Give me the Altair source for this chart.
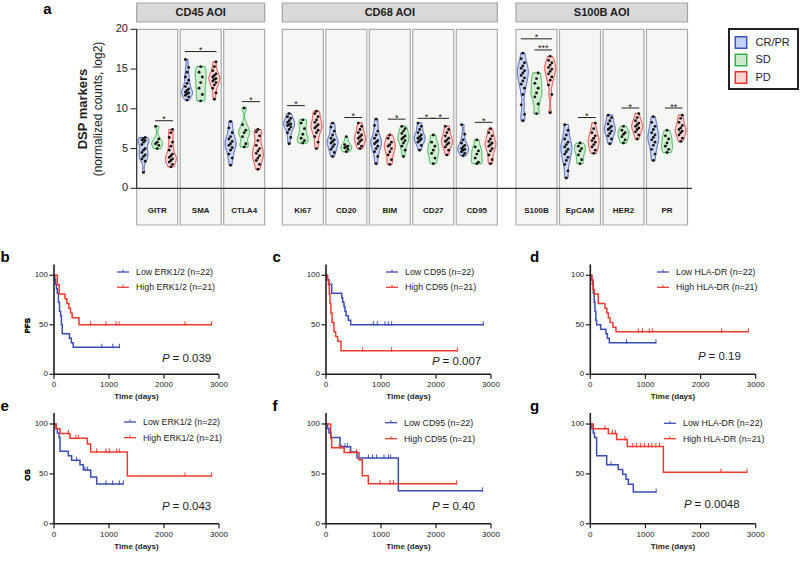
import altair as alt
import pandas as pd

# ---------------- panel a data (CR/PR, SD, PD) ----------------
GROUPS = ['CR/PR', 'SD', 'PD']
FILLS = ['#c5d1ef', '#cbecca', '#fcd5d5']
STROKES = ['#3a55b6', '#2fb04a', '#e8332d']

GITR = ([2.0, 3.4, 3.7, 4.0, 4.2, 4.5, 4.8, 5.0, 5.5, 5.8, 6.0, 6.1, 6.2, 6.4],
        [5.0, 5.4, 5.6, 5.8, 6.2, 7.8],
        [2.7, 3.0, 3.3, 3.5, 3.7, 3.9, 4.1, 4.3, 4.8, 5.3, 5.8, 6.4, 7.0, 7.4])
SMA = ([11.1, 11.5, 11.7, 11.9, 12.0, 12.1, 12.3, 12.5, 12.8, 13.2, 13.6, 14.0, 14.6, 15.2, 16.2],
       [11.0, 11.8, 12.6, 13.3, 14.0, 14.6, 15.3],
       [11.2, 12.0, 12.6, 13.0, 13.3, 13.5, 13.7, 13.8, 14.0, 14.2, 14.4, 14.8, 15.3, 15.9])
CTLA4 = ([2.9, 3.8, 4.3, 4.8, 5.1, 5.4, 5.6, 5.9, 6.2, 6.5, 7.0, 7.6, 8.4],
         [5.2, 5.6, 6.5, 7.0, 7.3, 8.0, 10.1],
         [2.4, 3.0, 3.5, 3.8, 4.1, 4.4, 4.7, 5.0, 5.4, 6.0, 6.6, 7.1, 7.4])
KI67 = ([5.6, 6.4, 7.0, 7.4, 7.7, 7.9, 8.0, 8.1, 8.3, 8.5, 8.8, 9.0, 9.4],
        [5.7, 6.0, 6.3, 6.8, 7.5, 8.2, 8.6],
        [5.0, 5.8, 6.5, 7.0, 7.3, 7.6, 7.8, 8.0, 8.3, 8.6, 9.0, 9.4, 9.7])
CD20 = ([4.0, 4.5, 4.9, 5.2, 5.5, 5.7, 5.9, 6.1, 6.3, 6.7, 7.2, 7.7, 8.2],
        [4.6, 4.9, 5.1, 5.2, 5.3, 5.5, 6.5],
        [5.0, 5.3, 5.6, 5.9, 6.1, 6.3, 6.5, 6.7, 7.0, 7.4, 7.8, 8.2])
BIM = ([3.1, 4.0, 4.6, 5.0, 5.3, 5.6, 5.8, 6.0, 6.3, 6.7, 7.2, 7.9, 8.7],
       [4.0, 4.8, 5.3, 5.7, 6.0, 6.2, 6.4, 6.6, 6.9, 7.2, 7.5, 7.8],
       [3.0, 3.6, 4.2, 4.6, 5.0, 5.3, 5.5, 5.8, 6.3, 6.7])
CD27 = ([4.8, 5.4, 5.8, 6.0, 6.2, 6.3, 6.5, 6.7, 7.0, 7.4, 7.8, 8.2],
        [3.1, 3.8, 4.4, 4.8, 5.3, 5.8, 6.7],
        [4.2, 4.8, 5.2, 5.5, 5.7, 5.9, 6.1, 6.3, 6.6, 7.0, 7.4, 7.8])
CD95 = ([4.1, 4.4, 4.6, 4.8, 4.9, 5.0, 5.2, 5.4, 5.7, 6.1, 6.8, 8.0],
        [3.1, 3.3, 3.8, 4.3, 4.7, 5.2, 6.1],
        [3.1, 3.6, 4.2, 4.7, 5.0, 5.3, 5.5, 5.7, 5.9, 6.2, 6.6, 7.0, 7.5])
S100B = ([8.5, 9.3, 10.5, 11.8, 12.6, 13.1, 13.5, 13.9, 14.2, 14.5, 14.8, 15.1, 15.4, 15.8, 16.3, 17.0],
         [9.4, 10.6, 11.5, 12.0, 12.6, 13.2, 13.8, 14.5],
         [9.5, 11.8, 13.0, 13.6, 14.0, 14.4, 14.7, 15.0, 15.2, 15.5, 15.8, 16.1, 16.6])
EPCAM = ([1.3, 2.2, 3.0, 3.5, 3.9, 4.3, 4.6, 4.9, 5.2, 5.5, 5.8, 6.2, 6.7, 7.3, 8.0],
         [3.1, 3.6, 4.2, 4.7, 5.0, 5.3, 5.7],
         [4.4, 4.8, 5.2, 5.5, 5.8, 6.0, 6.3, 6.6, 7.0, 7.5, 8.2])
HER2 = ([5.6, 6.2, 6.6, 6.9, 7.2, 7.4, 7.6, 7.8, 8.1, 8.5, 8.9, 9.2],
        [5.7, 6.1, 6.5, 6.8, 7.0, 7.3, 7.8],
        [6.2, 6.7, 7.1, 7.4, 7.6, 7.8, 8.0, 8.2, 8.5, 8.9, 9.4])
PR = ([3.5, 4.3, 4.9, 5.4, 5.8, 6.1, 6.4, 6.7, 7.0, 7.4, 7.8, 8.3, 9.0],
      [4.5, 4.9, 5.3, 5.7, 6.2, 6.6, 7.3],
      [5.9, 6.3, 6.7, 7.0, 7.2, 7.4, 7.6, 7.9, 8.3, 8.8, 9.2])

MARKER_VALUES = {'GITR': GITR, 'SMA': SMA, 'CTLA4': CTLA4, 'Ki67': KI67, 'CD20': CD20,
                 'BIM': BIM, 'CD27': CD27, 'CD95': CD95, 'S100B': S100B, 'EpCAM': EPCAM,
                 'HER2': HER2, 'PR': PR}
AOIS = [('CD45 AOI', ['GITR', 'SMA', 'CTLA4']),
        ('CD68 AOI', ['Ki67', 'CD20', 'BIM', 'CD27', 'CD95']),
        ('S100B AOI', ['S100B', 'EpCAM', 'HER2', 'PR'])]
ORDER = {'BIM': ['CR/PR', 'PD', 'SD']}
TOP_TICKS = [0, 5, 10, 15, 20]
SIGS = [('GITR', 'SD', 'PD', 8.5, '*'), ('SMA', 'CR/PR', 'PD', 17.2, '*'),
        ('CTLA4', 'SD', 'PD', 10.9, '*'), ('Ki67', 'CR/PR', 'SD', 10.4, '*'),
        ('CD20', 'SD', 'PD', 8.9, '*'), ('BIM', 'PD', 'SD', 8.7, '*'),
        ('CD27', 'CR/PR', 'SD', 8.8, '*'), ('CD27', 'SD', 'PD', 8.8, '*'),
        ('CD95', 'SD', 'PD', 8.3, '*'), ('S100B', 'CR/PR', 'PD', 18.8, '*'),
        ('S100B', 'SD', 'PD', 17.4, '***'), ('EpCAM', 'SD', 'PD', 8.9, '*'),
        ('HER2', 'SD', 'PD', 10.1, '*'), ('PR', 'SD', 'PD', 10.1, '**')]

# ---------------- Kaplan-Meier data ----------------
B_LOW_T = [0, 15, 30, 45, 60, 80, 100, 120, 135, 150, 280, 315, 350]
B_LOW_S = [100, 95.5, 90.9, 86.4, 81.8, 72.7, 63.6, 59.1, 50.0, 40.9, 36.4, 31.8, 27.3]
B_LOW_C = [870, 1070, 1190]
B_HIGH_T = [0, 60, 95, 200, 235, 270, 300, 330, 455]
B_HIGH_S = [100, 90.5, 81.0, 76.2, 71.4, 66.7, 61.9, 57.1, 50.0]
B_HIGH_C = [667, 945, 1127, 1182, 2382, 2866]

C_LOW_T = [0, 24, 55, 103, 285, 303, 327, 345, 364, 406, 448]
C_LOW_S = [100, 95.5, 90.9, 81.8, 77.3, 72.7, 68.2, 63.6, 59.1, 54.5, 50.0]
C_LOW_C = [861, 933, 1073, 1133, 1194, 2860]
C_HIGH_T = [0, 30, 45, 60, 73, 90, 110, 145, 176, 212, 273]
C_HIGH_S = [100, 95.2, 90.5, 81.0, 71.4, 61.9, 52.4, 42.9, 38.1, 33.3, 23.8]
C_HIGH_C = [667, 1194, 2388]

D_LOW_T = [0, 24, 40, 55, 70, 85, 100, 115, 188, 284, 310, 345]
D_LOW_S = [100, 95.5, 90.9, 81.8, 72.7, 63.6, 54.5, 50.0, 45.5, 40.9, 36.4, 31.8]
D_LOW_C = [659, 1191]
D_HIGH_T = [0, 30, 50, 73, 145, 266, 300, 327, 357, 410, 466]
D_HIGH_S = [100, 95.2, 85.7, 81.0, 71.4, 66.7, 61.9, 57.1, 52.4, 47.6, 42.9]
D_HIGH_C = [871, 944, 1070, 1131, 2383, 2867]

E_LOW_T = [0, 36, 61, 91, 109, 261, 321, 473, 533, 667, 776]
E_LOW_S = [100, 95.5, 90.9, 86.4, 72.7, 68.2, 63.6, 59.1, 53.8, 47.0, 40.0]
E_LOW_C = [412, 564, 606, 945, 1067, 1188, 1260]
E_HIGH_T = [0, 40, 109, 290, 606, 667, 1333]
E_HIGH_S = [100, 95.2, 90.5, 85.7, 80.0, 72.0, 48.0]
E_HIGH_C = [260, 400, 448, 776, 945, 1006, 1140, 1188, 2382, 2866]

F_LOW_T = [0, 30, 55, 91, 255, 448, 564, 1315]
F_LOW_S = [100, 95.5, 90.9, 86.4, 77.3, 72.0, 66.0, 33.0]
F_LOW_C = [345, 388, 770, 848, 921, 1055, 1133, 1176, 2848]
F_HIGH_T = [0, 85, 103, 330, 600, 660, 770]
F_HIGH_S = [100, 85.7, 76.2, 71.4, 64.3, 48.2, 40.2]
F_HIGH_C = [240, 290, 436, 558, 982, 1164, 1224, 2376]

G_LOW_T = [0, 30, 54, 75, 115, 297, 508, 587, 647, 690, 780]
G_LOW_S = [100, 95.5, 90.9, 86.4, 68.2, 59.1, 54.5, 49.6, 44.6, 39.7, 31.8]
G_LOW_C = [375, 1194]
G_HIGH_T = [0, 54, 327, 478, 671, 1325]
G_HIGH_S = [100, 95.2, 90.5, 84.5, 77.5, 51.7]
G_HIGH_C = [266, 406, 455, 630, 770, 842, 915, 982, 1054, 1115, 1188, 1254, 2370, 2842]

KM_X_TICKS = [0, 1000, 2000, 3000]
KM_Y_TICKS = [0, 50, 100]
P_VALUES = ['0.039', '0.007', '0.19', '0.043', '0.40', '0.0048']
LEGEND_NAMES = [('Low ERK1/2 (n=22)', 'High ERK1/2 (n=21)'),
                ('Low CD95 (n=22)', 'High CD95 (n=21)'),
                ('Low HLA-DR (n=22)', 'High HLA-DR (n=21)')]

# ---------------- style / layout ----------------
FONT = 'Liberation Sans'
INK = '#1d1d1d'
BLUE = '#3a4db3'
RED = '#ef3b30'

TOP_Y0, TOP_Y20 = 188.3, 29.3
PW, STEP = 41.0, 43.5
GROUP_LEFT = [136.7, 282.3, 516.0]
PANEL_BOTTOM = 225.0


def one():
    return pd.DataFrame({'k': [0]})


def txt(s, x, y, size, weight='normal', align='left', baseline='middle', angle=0,
        style='normal', color=INK):
    return alt.Chart(pd.DataFrame({'t': [s]})).mark_text(
        font=FONT, fontSize=size, fontWeight=weight, align=align, baseline=baseline,
        angle=angle, fontStyle=style, color=color).encode(
        text='t:N', x=alt.value(x), y=alt.value(y))


def box(x1, y1, x2, y2, fill, stroke, sw=1.0):
    return alt.Chart(one()).mark_rect(fill=fill, stroke=stroke, strokeWidth=sw).encode(
        x=alt.value(x1), x2=alt.value(x2), y=alt.value(y1), y2=alt.value(y2))


def hline(x1, x2, y, color, sw=1.0):
    return alt.Chart(one()).mark_rule(color=color, strokeWidth=sw).encode(
        x=alt.value(x1), x2=alt.value(x2), y=alt.value(y))


def vline(x, y1, y2, color, sw=1.0):
    return alt.Chart(one()).mark_rule(color=color, strokeWidth=sw).encode(
        x=alt.value(x), y=alt.value(y1), y2=alt.value(y2))


def violin_panel(name, left):
    vals = MARKER_VALUES[name]
    order = ORDER.get(name, GROUPS)
    xs = alt.Scale(domain=[0.5, 3.5], range=[left, left + PW], nice=False, zero=False)
    ys = alt.Scale(domain=[0, 20], range=[TOP_Y0, TOP_Y20], nice=False, zero=False)
    rows = []
    for g, v in zip(GROUPS, vals):
        for val in v:
            rows.append({'g': g, 'v': val, 'pos': order.index(g) + 1, 'lo': min(v), 'hi': max(v)})
    df = pd.DataFrame(rows)
    fill = alt.Fill('g:N', scale=alt.Scale(domain=GROUPS, range=FILLS), legend=None)
    stroke = alt.Stroke('g:N', scale=alt.Scale(domain=GROUPS, range=STROKES), legend=None)

    bg = box(left, TOP_Y20, left + PW, PANEL_BOTTOM, '#f6f6f4', '#ababab', 1.2)
    violin = alt.Chart(df).transform_density(
        'v', groupby=['g', 'pos', 'lo', 'hi'], as_=['v', 'density'], bandwidth=0.45,
        extent=[-1, 21], steps=441
    ).transform_filter(
        'datum.v >= datum.lo - 0.03 && datum.v <= datum.hi + 0.03'
    ).transform_joinaggregate(dmax='max(density)', groupby=['g']
    ).transform_calculate(
        xa='datum.pos - 0.4 * datum.density / datum.dmax',
        xb='datum.pos + 0.4 * datum.density / datum.dmax'
    ).mark_area(orient='horizontal', strokeWidth=1, fillOpacity=0.85).encode(
        y=alt.Y('v:Q', scale=ys, axis=None),
        x=alt.X('xa:Q', scale=xs, axis=None, stack=None),
        x2='xb:Q', fill=fill, stroke=stroke, detail='g:N')
    pts = alt.Chart(df).transform_window(rn='row_number()', groupby=['g']).transform_calculate(
        px='datum.pos + ((datum.rn % 3) - 1) * 0.12'
    ).mark_circle(size=8, color='#111111', opacity=1).encode(
        x=alt.X('px:Q', scale=xs, axis=None), y=alt.Y('v:Q', scale=ys, axis=None))

    srows = [{'a': order.index(g1) + 1, 'b': order.index(g2) + 1, 'y': y, 'lab': lab}
             for (m, g1, g2, y, lab) in SIGS if m == name]
    sdf = pd.DataFrame(srows)
    sbase = alt.Chart(sdf).transform_calculate(
        xa='min(datum.a, datum.b) - 0.15', xb='max(datum.a, datum.b) + 0.15',
        xm='(datum.a + datum.b) / 2')
    srule = sbase.mark_rule(color='#222222', strokeWidth=1).encode(
        x=alt.X('xa:Q', scale=xs, axis=None), x2='xb:Q', y=alt.Y('y:Q', scale=ys, axis=None))
    stext = sbase.mark_text(font=FONT, fontSize=9, baseline='alphabetic', dy=1.5, color='#222222').encode(
        x=alt.X('xm:Q', scale=xs, axis=None), y=alt.Y('y:Q', scale=ys, axis=None), text='lab:N')
    label = txt(name, left + PW / 2, 211, 8, 'bold', 'center')
    return alt.layer(bg, violin, pts, srule, stext, label)


def level(ts, ss, c):
    lv = ss[0]
    for t, s in zip(ts, ss):
        if t <= c:
            lv = s
    return lv


def km_panel(geom, curves, ylab, pval, ppos, legend_pos, names):
    x0, x3, y0, y100 = geom
    xs = alt.Scale(domain=[0, 3000], range=[x0, x3], nice=False, zero=False)
    ys = alt.Scale(domain=[0, 100], range=[y0, y100], nice=False, zero=False)
    dpx = 3000.0 / (x3 - x0)
    spx = 100.0 / (y0 - y100)

    def X(f):
        return alt.X(f, scale=xs, axis=None)

    def Y(f):
        return alt.Y(f, scale=ys, axis=None)

    parts = []
    for (ts, ss, cs, color) in curves:
        end = max(cs)
        df = pd.DataFrame({'t': list(ts) + [end], 's': list(ss) + [ss[-1]]})
        parts.append(alt.Chart(df).mark_line(interpolate='step-after', color=color,
                                             strokeWidth=1.5).encode(x=X('t:Q'), y=Y('s:Q')))
        lv = [level(ts, ss, c) for c in cs]
        cdf = pd.DataFrame({'t': cs, 's1': [v - 1.0 * spx for v in lv], 's2': [v + 3.5 * spx for v in lv]})
        parts.append(alt.Chart(cdf).mark_rule(color=color, strokeWidth=1).encode(
            x=X('t:Q'), y=Y('s1:Q'), y2='s2:Q'))

    yax = alt.Chart(pd.DataFrame({'x': [0], 'a': [0], 'b': [111]})).mark_rule(
        color=INK, strokeWidth=1.6).encode(x=X('x:Q'), y=Y('a:Q'), y2='b:Q')
    xax = alt.Chart(pd.DataFrame({'y': [0], 'a': [0], 'b': [3000]})).mark_rule(
        color=INK, strokeWidth=1.6).encode(y=Y('y:Q'), x=X('a:Q'), x2='b:Q')
    ytdf = pd.DataFrame({'v': KM_Y_TICKS, 'x0': 0.0, 'x1': -4.5 * dpx})
    yt = alt.Chart(ytdf).mark_rule(color=INK, strokeWidth=1.2).encode(
        x=X('x1:Q'), x2='x0:Q', y=Y('v:Q'))
    ytl = alt.Chart(ytdf).mark_text(font=FONT, fontSize=8, align='right', baseline='middle',
                                    dx=-6, color=INK).encode(x=X('x0:Q'), y=Y('v:Q'), text='v:Q')
    xtdf = pd.DataFrame({'v': KM_X_TICKS, 'y0': 0.0, 'y1': -4.5 * spx})
    xt = alt.Chart(xtdf).mark_rule(color=INK, strokeWidth=1.2).encode(
        x=X('v:Q'), y=Y('y0:Q'), y2='y1:Q')
    xtl = alt.Chart(xtdf).mark_text(font=FONT, fontSize=8, align='center', baseline='middle',
                                    dy=11, color=INK).encode(x=X('v:Q'), y=Y('y0:Q'), text='v:Q')
    parts += [yax, xax, yt, ytl, xt, xtl]

    parts.append(txt(ylab, 28, (y0 + y100) / 2 + 1, 8, 'bold', 'center', angle=270))
    parts.append(txt('Time (days)', (x0 + x3) / 2, y0 + 23, 8, 'bold', 'center'))
    px, py = ppos
    parts.append(txt('P', px, py, 11.5, align='left', style='italic'))
    parts.append(txt('= ' + pval, px + 10.5, py, 11.5, align='left'))

    lx, ly1, ly2 = legend_pos
    for nm, ly, col in [(names[0], ly1, BLUE), (names[1], ly2, RED)]:
        parts.append(hline(lx, lx + 12, ly, col, 1.3))
        parts.append(vline(lx + 6, ly - 2.5, ly, col, 1.0))
        parts.append(txt(nm, lx + 19, ly, 8.8, align='left'))
    return alt.layer(*parts)


layers = []

# ---- panel a: headers, panels ----
for (title, names), gl in zip(AOIS, GROUP_LEFT):
    right = gl + (len(names) - 1) * STEP + PW
    layers.append(box(gl, 3, right, 22, '#d9d9d9', '#a3a3a3', 1.2))
    layers.append(txt(title, (gl + right) / 2, 12.8, 11, 'bold', 'center'))
    for i, m in enumerate(names):
        layers.append(violin_panel(m, gl + i * STEP))

# ---- panel a: y axis + baseline ----
ys_top = alt.Scale(domain=[0, 20], range=[TOP_Y0, TOP_Y20], nice=False, zero=False)
tdf = pd.DataFrame({'v': TOP_TICKS})
top_axis = alt.layer(
    alt.Chart(tdf).mark_rule(color=INK, strokeWidth=1).encode(
        x=alt.value(130.5), x2=alt.value(136.7), y=alt.Y('v:Q', scale=ys_top, axis=None)),
    alt.Chart(tdf).mark_text(font=FONT, fontSize=11, align='right', baseline='middle', color=INK).encode(
        x=alt.value(128), y=alt.Y('v:Q', scale=ys_top, axis=None), text='v:Q'),
    alt.Chart(pd.DataFrame({'a': [0], 'b': [20]})).mark_rule(color=INK, strokeWidth=1).encode(
        x=alt.value(136.7), y=alt.Y('a:Q', scale=ys_top, axis=None), y2='b:Q'),
    alt.Chart(pd.DataFrame({'a': [0]})).mark_rule(color='#333333', strokeWidth=1.2).encode(
        x=alt.value(136.7), x2=alt.value(692), y=alt.Y('a:Q', scale=ys_top, axis=None)),
)
layers.append(top_axis)
layers.append(txt('DSP markers', 83, 109, 13, 'bold', 'center', angle=270))
layers.append(txt('(normalized counts, log2)', 98, 109, 12, 'normal', 'center', angle=270))

# ---- panel a legend ----
layers.append(box(729, 29, 798, 89, '#ffffff', '#222222', 2))
ldf = pd.DataFrame({'g': GROUPS})
ly_scale = alt.Scale(type='point', domain=GROUPS, range=[42.5, 77.5], padding=0)
layers.append(alt.layer(
    alt.Chart(ldf).mark_square(size=130, strokeWidth=1.5, opacity=1).encode(
        x=alt.value(741), y=alt.Y('g:N', scale=ly_scale, axis=None),
        fill=alt.Fill('g:N', scale=alt.Scale(domain=GROUPS, range=FILLS), legend=None),
        stroke=alt.Stroke('g:N', scale=alt.Scale(domain=GROUPS, range=STROKES), legend=None)),
    alt.Chart(ldf).mark_text(font=FONT, fontSize=11, align='left', baseline='middle', color=INK).encode(
        x=alt.value(755.5), y=alt.Y('g:N', scale=ly_scale, axis=None), text='g:N'),
))

# ---- KM panels ----
ROW1 = (374.3, 275.3)
ROW2 = (523.8, 424.0)
COLS = [(54.0, 219.0), (326.0, 491.0), (590.3, 755.7)]
km_specs = [
    ('PFS', COLS[0], ROW1, [(B_LOW_T, B_LOW_S, B_LOW_C, BLUE), (B_HIGH_T, B_HIGH_S, B_HIGH_C, RED)],
     P_VALUES[0], (162, 358.5), (117, 272, 287.3), LEGEND_NAMES[0]),
    ('PFS', COLS[1], ROW1, [(C_LOW_T, C_LOW_S, C_LOW_C, BLUE), (C_HIGH_T, C_HIGH_S, C_HIGH_C, RED)],
     P_VALUES[1], (432, 362), (386, 272, 287.3), LEGEND_NAMES[1]),
    ('PFS', COLS[2], ROW1, [(D_LOW_T, D_LOW_S, D_LOW_C, BLUE), (D_HIGH_T, D_HIGH_S, D_HIGH_C, RED)],
     P_VALUES[2], (698, 357), (657, 272, 287.3), LEGEND_NAMES[2]),
    ('OS', COLS[0], ROW2, [(E_LOW_T, E_LOW_S, E_LOW_C, BLUE), (E_HIGH_T, E_HIGH_S, E_HIGH_C, RED)],
     P_VALUES[3], (162, 506.7), (124, 422, 437.7), LEGEND_NAMES[0]),
    ('OS', COLS[1], ROW2, [(F_LOW_T, F_LOW_S, F_LOW_C, BLUE), (F_HIGH_T, F_HIGH_S, F_HIGH_C, RED)],
     P_VALUES[4], (432, 506.7), (385, 422.7, 438.7), LEGEND_NAMES[1]),
    ('OS', COLS[2], ROW2, [(G_LOW_T, G_LOW_S, G_LOW_C, BLUE), (G_HIGH_T, G_HIGH_S, G_HIGH_C, RED)],
     P_VALUES[5], (684, 505), (664, 423.3, 438.7), LEGEND_NAMES[2]),
]
for ylab, (x0, x3), (y0, y100), curves, pv, ppos, lpos, nm in km_specs:
    layers.append(km_panel((x0, x3, y0, y100), curves, ylab, pv, ppos, lpos, nm))

# ---- panel letters ----
for letter, x, y in [('a', 47.5, 13.5), ('b', 0.5, 262), ('c', 272.5, 262), ('d', 530, 262),
                     ('e', 0.5, 411), ('f', 272.5, 411), ('g', 530, 411)]:
    layers.append(txt(letter, x, y, 15, 'bold', 'center' if letter == 'a' else 'left',
                      baseline='alphabetic', color='#000000'))

chart = alt.layer(*layers).resolve_scale(
    x='independent', y='independent'
).properties(
    width=800, height=561, padding=0, background='white',
    autosize=alt.AutoSizeParams(type='none')
).configure_view(stroke=None)

chart.save('out.html', embed_options={'renderer': 'svg', 'actions': False})
